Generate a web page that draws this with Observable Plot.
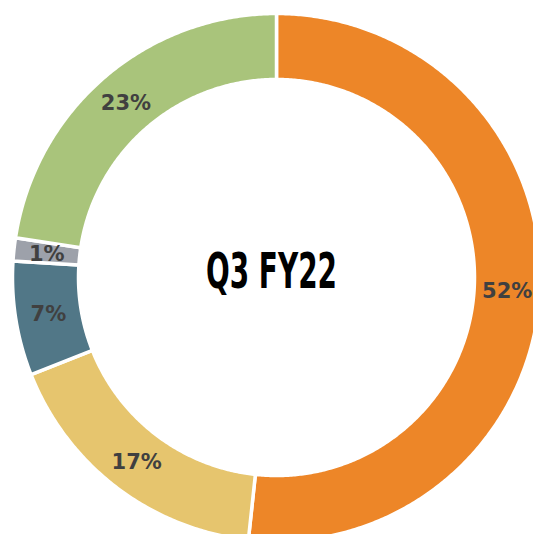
<!DOCTYPE html>
<html>
<head>
<meta charset="utf-8">
<script src="https://cdn.jsdelivr.net/npm/d3@7"></script>
<script src="https://cdn.jsdelivr.net/npm/@observablehq/plot@0.6"></script>
<style>
  html, body { margin: 0; padding: 0; background: #fff; }
  #chart { width: 533px; height: 534px; overflow: hidden; }
</style>
</head>
<body>
<div id="chart"></div>
<script>
// Data (clockwise from 12 o'clock)
const categories = ["A", "B", "C", "D", "E"];
const values = [51.7, 17.3, 7.0, 1.4, 22.6];
const labels = ["52%", "17%", "7%", "1%", "23%"];
const colors = ["#ED8628", "#E6C56E", "#517787", "#9DA1AA", "#A9C47B"];
const centerTitle = "Q3 FY22";

const W = 533, H = 534;
const cx = 276, cy = 277;
const rOuter = 264, rInner = 198;

const arcs = d3.pie().sort(null).value(d => d)(values);

// Build ring polygons in data coordinates (x right, y up; 1 unit = 1 px)
const poly = [];
arcs.forEach((a, i) => {
  const n = Math.max(8, Math.ceil((a.endAngle - a.startAngle) * 120));
  const pts = [];
  for (let k = 0; k <= n; k++) {
    const t = a.startAngle + (a.endAngle - a.startAngle) * k / n;
    pts.push([rOuter * Math.sin(t), rOuter * Math.cos(t)]);
  }
  for (let k = n; k >= 0; k--) {
    const t = a.startAngle + (a.endAngle - a.startAngle) * k / n;
    pts.push([rInner * Math.sin(t), rInner * Math.cos(t)]);
  }
  pts.push(pts[0]);
  pts.forEach(([x, y]) => poly.push({cat: categories[i], x, y}));
});

const rLabel = (rOuter + rInner) / 2;
const labelData = arcs.map((a, i) => {
  const m = (a.startAngle + a.endAngle) / 2;
  return {cat: categories[i], label: labels[i], x: rLabel * Math.sin(m), y: rLabel * Math.cos(m)};
});

const chart = Plot.plot({
  width: W,
  height: H,
  margin: 0,
  x: {domain: [-cx, W - cx], axis: null},
  y: {domain: [-(H - cy), cy], axis: null},
  color: {domain: categories, range: colors},
  style: {background: "#fff"},
  marks: [
    Plot.line(poly, {x: "x", y: "y", z: "cat", fill: "cat", stroke: "#fff", strokeWidth: 3.5, curve: "linear"}),
    Plot.text(labelData, {x: "x", y: "y", text: "label", fill: "#404040", fontSize: 21, fontWeight: "bold", fontFamily: "DejaVu Sans", dy: 1}),
    Plot.text([centerTitle], {x: [-5], y: [5], text: d => d, fill: "#000", fontSize: 49, fontWeight: "bold", fontFamily: "DejaVu Sans Condensed", className: "center-title"})
  ]
});

document.getElementById("chart").appendChild(chart);
const t = chart.querySelector(".center-title text");
if (t) { t.setAttribute("textLength", 131); t.setAttribute("lengthAdjust", "spacingAndGlyphs"); }
</script>
</body>
</html>
